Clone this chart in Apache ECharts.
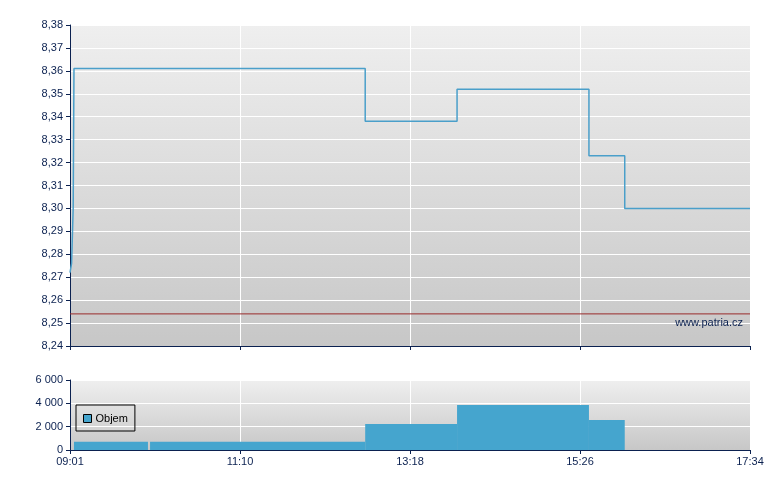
<!DOCTYPE html>
<html>
<head>
<meta charset="utf-8">
<script src="https://cdn.jsdelivr.net/npm/echarts@6/dist/echarts.min.js"></script>
<style>html,body{margin:0;padding:0;background:#fff;}#c{width:780px;height:490px;}</style>
</head>
<body>
<div id="c"></div>
<script>
// x values: minutes after 09:01
const xTickLabels = ['09:01', '11:10', '13:18', '15:26', '17:34'];
const priceTimes  = [0, 1.2, 2.4, 3, 222.7, 222.7, 292, 292, 391.5, 391.5, 418.5, 418.5, 513];
const priceValues = [8.272, 8.276, 8.300, 8.361, 8.361, 8.338, 8.338, 8.352, 8.352, 8.323, 8.323, 8.300, 8.300];
const prevClose = 8.254;
const volStart  = [3, 60.4, 222.7, 292, 391.5];
const volEnd    = [58.8, 222.7, 292, 391.5, 418.5];
const volValues = [700, 700, 2230, 3860, 2580];
const priceTicks = ['8,24','8,25','8,26','8,27','8,28','8,29','8,30','8,31','8,32','8,33','8,34','8,35','8,36','8,37','8,38'];
const volTicks = ['0', '2 000', '4 000', '6 000'];

const navy = '#0b2150';
const font = 'Liberation Sans, Arial, sans-serif';
const grad = () => new echarts.graphic.LinearGradient(0, 0, 0, 1, [
  {offset: 0, color: '#efefef'}, {offset: 1, color: '#c7c7c7'}
]);
const XI = 128.25;

const chart = echarts.init(document.getElementById('c'), null, {renderer: 'canvas'});
chart.setOption({
  animation: false,
  textStyle: {fontFamily: font},
  grid: [
    {left: 70, top: 25, width: 680, height: 321, show: true, backgroundColor: grad(), borderWidth: 0},
    {left: 70, top: 380, width: 680, height: 70, show: true, backgroundColor: grad(), borderWidth: 0}
  ],
  legend: {
    data: [{name: 'Objem', icon: 'rect'}],
    left: 76, top: 405,
    padding: [8, 7, 7, 7],
    itemWidth: 8, itemHeight: 8, itemGap: 4,
    borderColor: '#000', borderWidth: 1,
    itemStyle: {borderColor: '#000', borderWidth: 1},
    textStyle: {color: '#000', fontSize: 11, fontFamily: font, padding: [0, 0, 0, -1]},
    selectedMode: false
  },
  graphic: [{
    type: 'text', right: 37, top: 317, z: 10,
    style: {text: 'www.patria.cz', fill: navy, font: '11px ' + font}
  }],
  xAxis: [0, 1].map(i => ({
    type: 'value', gridIndex: i, min: 0, max: 513, interval: XI,
    axisLine: {show: true, lineStyle: {color: navy, width: 1}},
    axisTick: {show: true, length: 4, lineStyle: {color: navy}},
    axisLabel: {
      show: i === 1, color: navy, fontSize: 11, fontFamily: font, margin: 6,
      formatter: v => xTickLabels[Math.round(v / XI)]
    },
    splitLine: {show: true, lineStyle: {color: '#ffffff', width: 1}}
  })),
  yAxis: [
    {
      type: 'value', gridIndex: 0, min: 8.24, max: 8.38, interval: 0.01,
      axisLine: {show: true, lineStyle: {color: navy}},
      axisTick: {show: true, length: 4, lineStyle: {color: navy}},
      axisLabel: {color: navy, fontSize: 11, fontFamily: font, margin: 7,
        formatter: v => priceTicks[Math.round((v - 8.24) * 100)]},
      splitLine: {show: true, lineStyle: {color: '#ffffff', width: 1}}
    },
    {
      type: 'value', gridIndex: 1, min: 0, max: 6000, interval: 2000,
      axisLine: {show: true, lineStyle: {color: navy}},
      axisTick: {show: true, length: 4, lineStyle: {color: navy}},
      axisLabel: {color: navy, fontSize: 11, fontFamily: font, margin: 7,
        formatter: v => volTicks[Math.round(v / 2000)]},
      splitLine: {show: true, lineStyle: {color: '#ffffff', width: 1}}
    }
  ],
  series: [
    {
      type: 'line', name: 'Předchozí', xAxisIndex: 0, yAxisIndex: 0,
      data: [[0, prevClose], [513, prevClose]],
      showSymbol: false, symbol: 'none', silent: true,
      lineStyle: {color: '#9a2a2a', width: 1},
      z: 3
    },
    {
      type: 'line', name: 'Cena', xAxisIndex: 0, yAxisIndex: 0,
      data: priceTimes.map((t, i) => [t, priceValues[i]]),
      showSymbol: false, symbol: 'none',
      lineStyle: {color: '#4a9fca', width: 1.5},
      z: 5
    },
    {
      type: 'custom', name: 'Objem', xAxisIndex: 1, yAxisIndex: 1,
      itemStyle: {color: '#45a5ce'},
      data: volStart.map((s, i) => [s, volEnd[i], volValues[i]]),
      encode: {x: [0, 1], y: 2},
      renderItem: (params, api) => {
        const p0 = api.coord([api.value(0), api.value(2)]);
        const p1 = api.coord([api.value(1), 0]);
        return {
          type: 'rect',
          shape: {x: p0[0], y: p0[1], width: p1[0] - p0[0], height: p1[1] - p0[1]},
          style: {fill: '#45a5ce'}
        };
      }
    }
  ]
});
</script>
</body>
</html>
